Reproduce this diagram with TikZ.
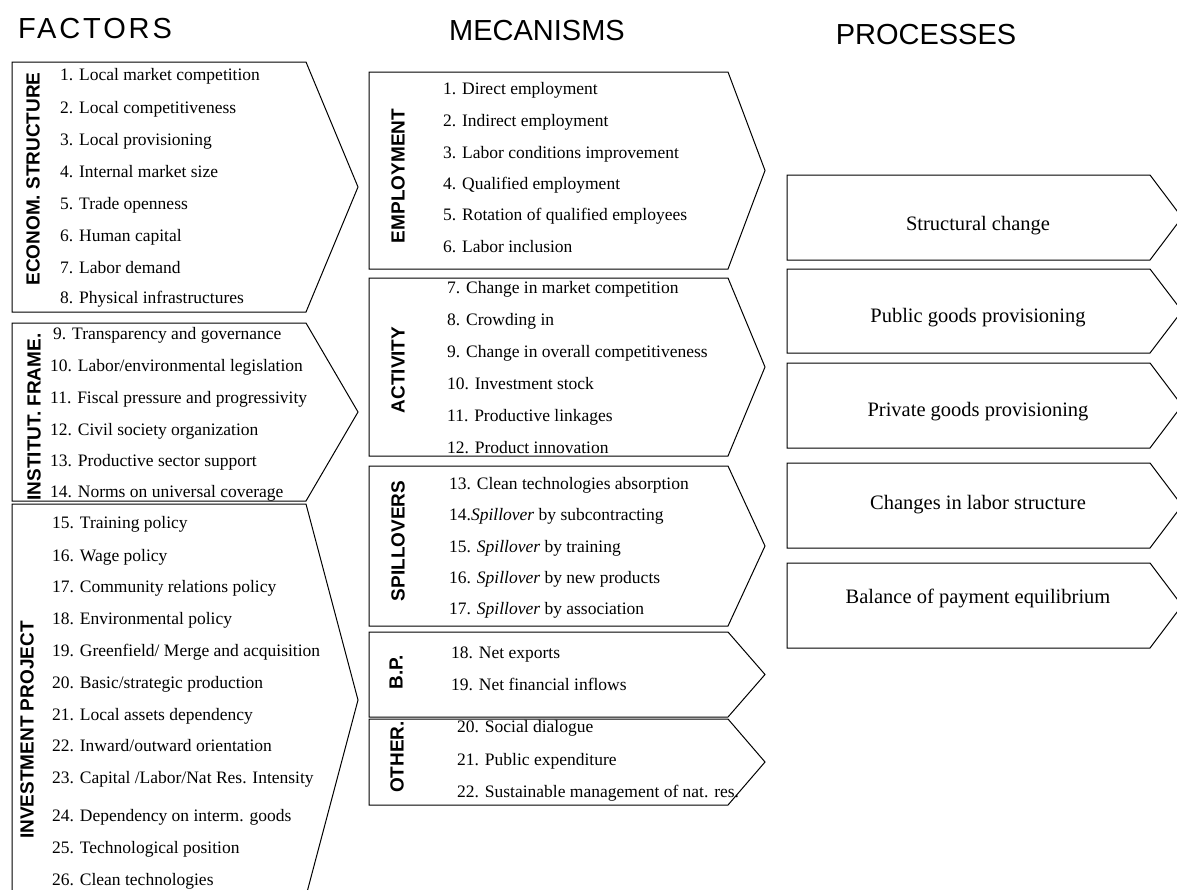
\documentclass[tikz,border=0pt]{standalone}
\usepackage{fontspec}
\setmainfont{Liberation Serif}
\setsansfont{Liberation Sans}
\begin{document}
\begin{tikzpicture}[x=1pt,y=-1pt,
  shapebox/.style={draw=black, line width=1pt, line join=miter},
  item/.style={anchor=base west, inner sep=0pt, font=\fontsize{17.5}{20}\selectfont},
  proc/.style={anchor=base, inner sep=0pt, font=\fontsize{20.5}{24}\selectfont},
  vlab/.style={rotate=90, anchor=center, inner sep=0pt, font=\sffamily\bfseries\fontsize{19}{22}\selectfont},
  head/.style={anchor=center, inner sep=0pt, font=\sffamily\fontsize{29}{32}\selectfont}]
\clip (0,0) rectangle (1177,889);
\fill[white] (0,0) rectangle (1177,889);

% headings
\node[head] (hF) at (95,29) {\addfontfeature{LetterSpace=10}FACTORS};
\node[head] (hM) at (537,31) {MECANISMS};
\node[head] (hP) at (926,35) {PROCESSES};

% ---------------- FACTORS ----------------
\draw[shapebox] (12,62) -- (306,62) -- (358,187) -- (306,312) -- (12,312) -- cycle;
\draw[shapebox] (12,323) -- (306,323) -- (358,412) -- (306,501) -- (12,501) -- cycle;
\draw[shapebox] (12,504) -- (306,504) -- (358,700) -- (306,896) -- (12,896) -- cycle;

\node[vlab] (lEcon) at (33,179) {ECONOM. STRUCTURE};
\node[vlab] (lInst) at (34,417) {INSTITUT. FRAME.};
\node[vlab] (lInv) at (27,730) {INVESTMENT PROJECT};

\node[item] (f1) at (60,80) {1. Local market competition};
\node[item] (f2) at (60,113) {2. Local competitiveness};
\node[item] (f3) at (60,145) {3. Local provisioning};
\node[item] (f4) at (60,177) {4. Internal market size};
\node[item] (f5) at (60,209) {5. Trade openness};
\node[item] (f6) at (60,241) {6. Human capital};
\node[item] (f7) at (60,273) {7. Labor demand};
\node[item] (f8) at (60,303) {8. Physical infrastructures};

\node[item] (f9) at (53,339) {9. Transparency and governance};
\node[item] (f10) at (50,371) {10. Labor/environmental legislation};
\node[item] (f11) at (50,403) {11. Fiscal pressure and progressivity};
\node[item] (f12) at (50,435) {12. Civil society organization};
\node[item] (f13) at (50,466) {13. Productive sector support};
\node[item] (f14) at (50,497) {14. Norms on universal coverage};

\node[item] (f15) at (52,528) {15. Training policy};
\node[item] (f16) at (52,561) {16. Wage policy};
\node[item] (f17) at (52,592) {17. Community relations policy};
\node[item] (f18) at (52,624) {18. Environmental policy};
\node[item] (f19) at (52,656) {19. Greenfield/ Merge and acquisition};
\node[item] (f20) at (52,688) {20. Basic/strategic production};
\node[item] (f21) at (52,720) {21. Local assets dependency};
\node[item] (f22) at (52,751) {22. Inward/outward orientation};
\node[item] (f23) at (52,783) {23. Capital /Labor/Nat Res. Intensity};
\node[item] (f24) at (52,821) {24. Dependency on interm. goods};
\node[item] (f25) at (52,853) {25. Technological position};
\node[item] (f26) at (52,885) {26. Clean technologies};

% ---------------- MECANISMS ----------------
\draw[shapebox] (369,72) -- (728,72) -- (765,170.5) -- (728,269) -- (369,269) -- cycle;
\draw[shapebox] (369,278) -- (728,278) -- (765,367) -- (728,456) -- (369,456) -- cycle;
\draw[shapebox] (369,466) -- (728,466) -- (765,546) -- (728,626) -- (369,626) -- cycle;
\draw[shapebox] (369,632) -- (728,632) -- (765,674.5) -- (728,717) -- (369,717) -- cycle;
\draw[shapebox] (369,719) -- (728,719) -- (765,762) -- (728,805) -- (369,805) -- cycle;

\node[vlab] (lEmp) at (398,176) {EMPLOYMENT};
\node[vlab] (lAct) at (398,370) {ACTIVITY};
\node[vlab] (lSpi) at (398,541) {SPILLOVERS};
\node[vlab] (lBP) at (396,672) {B.P.};
\node[vlab] (lOth) at (397,757) {OTHER.};

\node[item] (m1) at (443,94) {1. Direct employment};
\node[item] (m2) at (443,126) {2. Indirect employment};
\node[item] (m3) at (443,158) {3. Labor conditions improvement};
\node[item] (m4) at (443,189) {4. Qualified employment};
\node[item] (m5) at (443,220) {5. Rotation of qualified employees};
\node[item] (m6) at (443,252) {6. Labor inclusion};

\node[item] (m7) at (447,293) {7. Change in market competition};
\node[item] (m8) at (447,325) {8. Crowding in};
\node[item] (m9) at (447,357) {9. Change in overall competitiveness};
\node[item] (m10) at (447,389) {10. Investment stock};
\node[item] (m11) at (447,421) {11. Productive linkages};
\node[item] (m12) at (447,453) {12. Product innovation};

\node[item] (m13) at (449,489) {13. Clean technologies absorption};
\node[item] (m14) at (449,520) {14.\textit{Spillover} by subcontracting};
\node[item] (m15) at (449,552) {15. \textit{Spillover} by training};
\node[item] (m16) at (449,583) {16. \textit{Spillover} by new products};
\node[item] (m17) at (449,614) {17. \textit{Spillover} by association};

\node[item] (m18) at (451,658) {18. Net exports};
\node[item] (m19) at (451,690) {19. Net financial inflows};

\node[item] (m20) at (457,732) {20. Social dialogue};
\node[item] (m21) at (457,765) {21. Public expenditure};
\node[item] (m22) at (457,797) {22. Sustainable management of nat. res.};

% ---------------- PROCESSES ----------------
\draw[shapebox] (787,175) -- (1150,175) -- (1182,217.5) -- (1150,260) -- (787,260) -- cycle;
\draw[shapebox] (787,269) -- (1150,269) -- (1182,311) -- (1150,353) -- (787,353) -- cycle;
\draw[shapebox] (787,363) -- (1150,363) -- (1182,405.5) -- (1150,448) -- (787,448) -- cycle;
\draw[shapebox] (787,463) -- (1150,463) -- (1182,505.5) -- (1150,548) -- (787,548) -- cycle;
\draw[shapebox] (787,563) -- (1150,563) -- (1182,605.5) -- (1150,648) -- (787,648) -- cycle;

\node[proc] (p1) at (978,230) {Structural change};
\node[proc] (p2) at (978,322) {Public goods provisioning};
\node[proc] (p3) at (978,416) {Private goods provisioning};
\node[proc] (p4) at (978,509) {Changes in labor structure};
\node[proc] (p5) at (978,603) {Balance of payment equilibrium};
\end{tikzpicture}
\end{document}
